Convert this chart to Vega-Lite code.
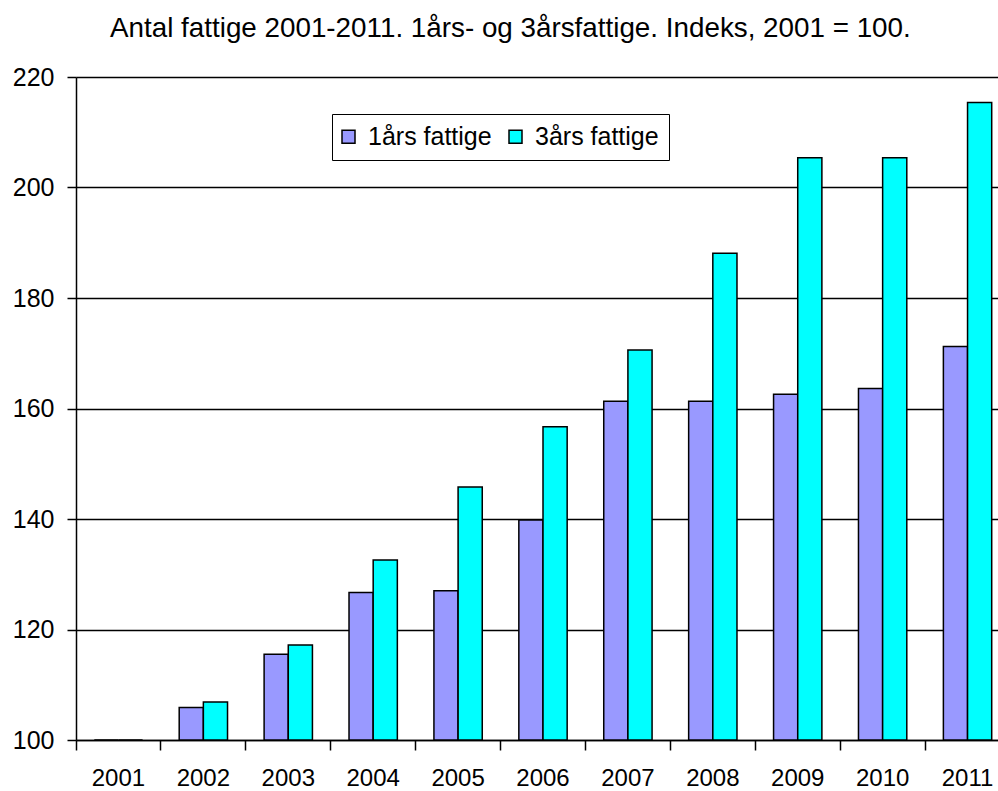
{
  "$schema": "https://vega.github.io/schema/vega-lite/v6.json",
  "width": 922,
  "height": 663,
  "autosize": {"type": "none"},
  "padding": {"left": 76, "top": 77, "right": 0, "bottom": 51},
  "background": "white",
  "title": {
    "text": "Antal fattige 2001-2011. 1års- og 3årsfattige. Indeks, 2001 = 100.",
    "anchor": "start",
    "frame": "group",
    "dx": 34,
    "offset": 0,
    "baseline": "alphabetic",
    "font": "Liberation Sans",
    "fontSize": 27.8,
    "fontWeight": "normal",
    "color": "black"
  },
  "data": {
    "values": [
      {"year": "2001", "series": "1års fattige", "value": 100},
      {"year": "2001", "series": "3års fattige", "value": 100},
      {"year": "2002", "series": "1års fattige", "value": 105.9},
      {"year": "2002", "series": "3års fattige", "value": 106.9},
      {"year": "2003", "series": "1års fattige", "value": 115.5},
      {"year": "2003", "series": "3års fattige", "value": 117.2},
      {"year": "2004", "series": "1års fattige", "value": 126.7},
      {"year": "2004", "series": "3års fattige", "value": 132.6},
      {"year": "2005", "series": "1års fattige", "value": 127.0},
      {"year": "2005", "series": "3års fattige", "value": 145.8},
      {"year": "2006", "series": "1års fattige", "value": 139.8},
      {"year": "2006", "series": "3års fattige", "value": 156.7},
      {"year": "2007", "series": "1års fattige", "value": 161.3},
      {"year": "2007", "series": "3års fattige", "value": 170.6},
      {"year": "2008", "series": "1års fattige", "value": 161.3},
      {"year": "2008", "series": "3års fattige", "value": 188.1},
      {"year": "2009", "series": "1års fattige", "value": 162.6},
      {"year": "2009", "series": "3års fattige", "value": 205.4},
      {"year": "2010", "series": "1års fattige", "value": 163.6},
      {"year": "2010", "series": "3års fattige", "value": 205.4},
      {"year": "2011", "series": "1års fattige", "value": 171.2},
      {"year": "2011", "series": "3års fattige", "value": 215.4}
    ]
  },
  "mark": {"type": "bar", "stroke": "black", "strokeWidth": 1.5},
  "encoding": {
    "x": {
      "field": "year",
      "type": "nominal",
      "scale": {"paddingInner": 0, "paddingOuter": 0, "range": [0, 934]},
      "axis": {
        "title": null,
        "labelAngle": 0,
        "bandPosition": 0,
        "tickSize": 10,
        "tickColor": "black",
        "tickWidth": 1.5,
        "domainColor": "black",
        "domainWidth": 1.5,
        "labelFont": "Liberation Sans",
        "labelFontSize": 24,
        "labelColor": "black",
        "labelBaseline": "middle",
        "labelPadding": 28,
        "grid": false
      }
    },
    "xOffset": {
      "field": "series",
      "scale": {"paddingInner": 0, "paddingOuter": 0.757}
    },
    "y": {
      "field": "value",
      "type": "quantitative",
      "scale": {"domain": [100, 220], "nice": false, "zero": false},
      "axis": {
        "title": null,
        "values": [100, 120, 140, 160, 180, 200, 220],
        "tickSize": 9,
        "tickColor": "black",
        "tickWidth": 1.5,
        "domainColor": "black",
        "domainWidth": 1.5,
        "labelFont": "Liberation Sans",
        "labelFontSize": 25,
        "labelColor": "black",
        "labelPadding": 13,
        "grid": true,
        "gridColor": "black",
        "gridWidth": 1.5,
        "gridOpacity": 1
      }
    },
    "y2": {"datum": 100},
    "color": {
      "field": "series",
      "type": "nominal",
      "scale": {"domain": ["1års fattige", "3års fattige"], "range": ["#9999FF", "#00FFFF"]},
      "legend": {
        "title": null,
        "orient": "none",
        "legendX": 256,
        "legendY": 37,
        "direction": "horizontal",
        "strokeColor": "black",
        "fillColor": "white",
        "padding": 10,
        "symbolOffset": -6,
        "symbolType": "square",
        "symbolSize": 169,
        "symbolStrokeColor": "black",
        "symbolStrokeWidth": 1.5,
        "symbolOpacity": 1,
        "labelFont": "Liberation Sans",
        "labelFontSize": 25,
        "labelColor": "black",
        "labelOffset": 7,
        "columnPadding": 14
      }
    }
  },
  "config": {"view": {"stroke": null}}
}
